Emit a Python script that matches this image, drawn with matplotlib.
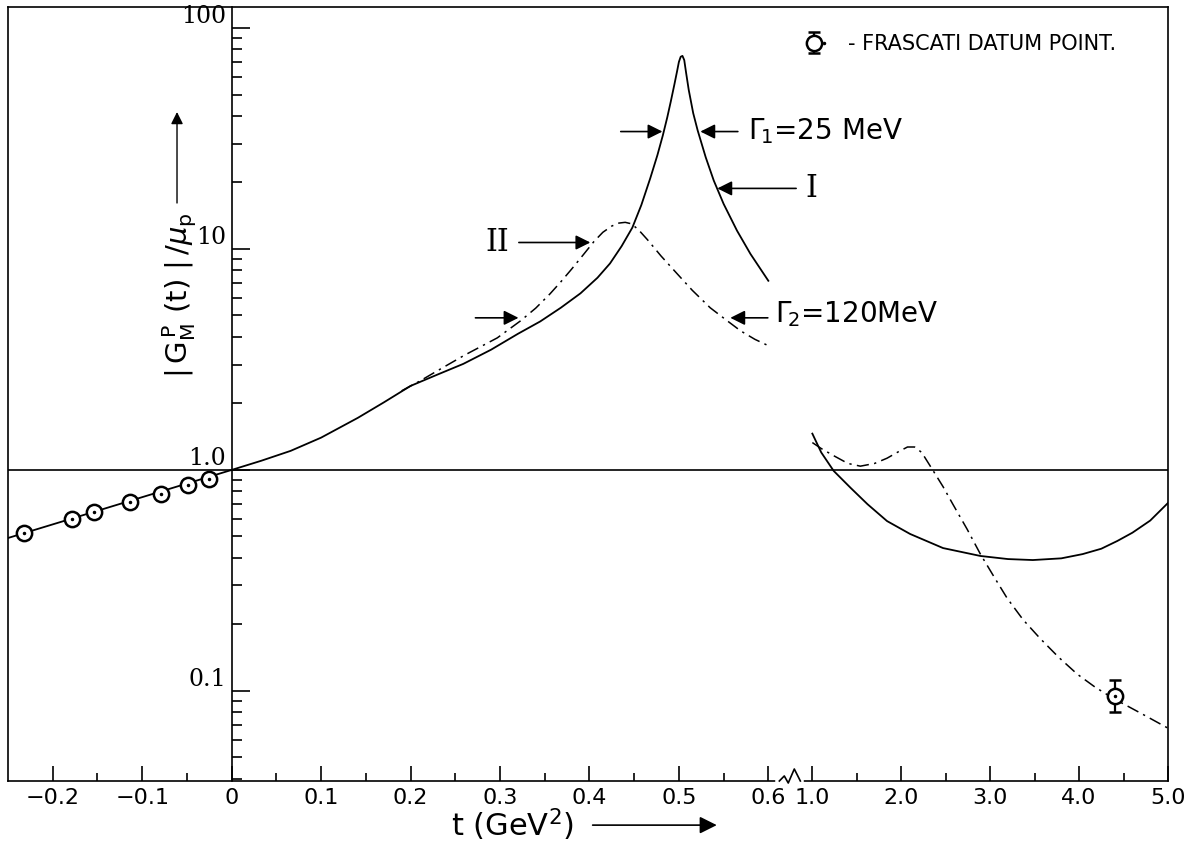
import numpy as np
import matplotlib
matplotlib.use('Agg')
import matplotlib.pyplot as plt
from matplotlib.ticker import FixedLocator, LogLocator, NullFormatter
from matplotlib.transforms import blended_transform_factory
from matplotlib.legend_handler import HandlerTuple

# spacelike data points
t_pts = [-0.232, -0.178, -0.154, -0.114, -0.079, -0.049, -0.025]
g_pts = [0.518, 0.600, 0.645, 0.716, 0.779, 0.855, 0.910]

# curve I (solid), t <= 0.6
t_I = [-0.25, 0.0, 0.033, 0.066, 0.10, 0.141, 0.17, 0.200, 0.23, 0.259, 0.29, 0.320,
       0.345, 0.368, 0.39, 0.409, 0.423, 0.436, 0.448, 0.458, 0.468, 0.476, 0.482,
       0.487, 0.491, 0.495, 0.498, 0.500, 0.502, 0.504, 0.506, 0.508, 0.511, 0.516,
       0.521, 0.530, 0.539, 0.550, 0.565, 0.580, 0.600]
g_I = [0.492, 1.0, 1.10, 1.22, 1.40, 1.72, 2.02, 2.40, 2.70, 3.02, 3.50, 4.13,
       4.70, 5.42, 6.3, 7.41, 8.6, 10.3, 12.5, 15.8, 20.9, 26.6, 32.6,
       39.4, 46.6, 55.6, 63.8, 70.2, 74.1, 74.8, 71.6, 63.0, 52.5, 41.2,
       34.4, 26.0, 20.4, 16.0, 12.1, 9.5, 7.18]

# curve II (dash-dot), t <= 0.6
t_II = [0.19, 0.21, 0.230, 0.26, 0.297, 0.323, 0.340, 0.356, 0.368, 0.38, 0.393,
        0.405, 0.415, 0.425, 0.433, 0.440, 0.447, 0.455, 0.465, 0.480, 0.498, 0.515,
        0.535, 0.552, 0.569, 0.585, 0.600]
g_II = [2.28, 2.52, 2.81, 3.30, 3.96, 4.73, 5.4, 6.27, 7.1, 8.1, 9.4,
        10.8, 11.9, 12.7, 13.1, 13.2, 13.0, 12.2, 11.0, 9.3, 7.73, 6.5,
        5.42, 4.8, 4.26, 3.9, 3.65]

# curves beyond the break, t >= 1
t_Ib = [1.0, 1.1, 1.24, 1.43, 1.62, 1.84, 2.10, 2.47, 2.89, 3.2, 3.48, 3.8, 4.04,
        4.25, 4.43, 4.6, 4.8, 5.0]
g_Ib = [1.46, 1.2, 0.99, 0.83, 0.70, 0.587, 0.513, 0.443, 0.408, 0.395, 0.391, 0.398,
        0.416, 0.44, 0.477, 0.52, 0.59, 0.709]
t_IIb = [1.0, 1.1, 1.24, 1.4, 1.54, 1.7, 1.84, 1.97, 2.07, 2.15, 2.23, 2.36, 2.47,
         2.58, 2.74, 2.89, 3.04, 3.19, 3.37, 3.56, 3.77, 3.98, 4.18, 4.38, 4.7, 5.0]
g_IIb = [1.33, 1.25, 1.16, 1.07, 1.04, 1.07, 1.13, 1.21, 1.27, 1.27, 1.20, 0.99, 0.84,
         0.70, 0.54, 0.416, 0.33, 0.263, 0.21, 0.173, 0.142, 0.119, 0.104, 0.0927, 0.079, 0.0678]

# Frascati point
t_fr = [4.40]
g_fr = [0.0946]
fr_lo = [0.0146]
fr_hi = [0.0174]

xmaj = [-0.2, -0.1, 0, 0.1, 0.2, 0.3, 0.4, 0.5, 0.6, 1.0, 2.0, 3.0, 4.0, 5.0]
xlab = ['\u22120.2', '\u22120.1', '0', '0.1', '0.2', '0.3', '0.4', '0.5', '0.6',
        '1.0', '2.0', '3.0', '4.0', '5.0']
xmin = [-0.15, -0.05, 0.05, 0.15, 0.25, 0.35, 0.45, 0.55, 1.5, 2.5, 3.5, 4.5]
ymaj = [0.1, 1.0, 10, 100]
ylab = ['0.1', '1.0', '10', '100']

# broken x axis: linear up to 0.6, compressed gap, then coarser scale from 1.0
U1 = 0.6492
SR = 0.0994
GAP = (U1 - 0.6) / 0.4


def fwd(t):
    t = np.asarray(t, float)
    return np.where(t <= 0.6, t, np.where(t >= 1.0, U1 + (t - 1.0) * SR, 0.6 + (t - 0.6) * GAP))


def inv(u):
    u = np.asarray(u, float)
    return np.where(u <= 0.6, u, np.where(u >= U1, 1.0 + (u - U1) / SR, 0.6 + (u - 0.6) / GAP))


fig = plt.figure(figsize=(11.93, 8.44), dpi=100)
ax = fig.add_axes([8 / 1193, 1 - 781 / 844, 1160 / 1193, 774 / 844])
ax.set_xscale('function', functions=(fwd, inv))
ax.set_yscale('log')
ax.set_xlim(-0.25, 5.0)
ax.set_ylim(0.0391, 124.5)

lw = 1.2
for s in ['top', 'right', 'bottom', 'left']:
    ax.spines[s].set_linewidth(lw)
ax.spines['left'].set_position(('data', 0))
ax.plot([0, 0], [0, 1], transform=ax.transAxes, color='k', lw=lw, clip_on=False)

ax.xaxis.set_major_locator(FixedLocator(xmaj))
ax.xaxis.set_minor_locator(FixedLocator(xmin))
ax.set_xticklabels(xlab, fontsize=16)
ax.xaxis.set_minor_formatter(NullFormatter())
ax.tick_params(axis='x', which='major', direction='in', length=11, width=lw, pad=5)
ax.tick_params(axis='x', which='minor', direction='in', length=6, width=lw)

ax.yaxis.set_major_locator(FixedLocator(ymaj))
ax.yaxis.set_minor_locator(LogLocator(base=10, subs=range(2, 10)))
ax.yaxis.set_minor_formatter(NullFormatter())
ax.set_yticklabels(ylab, fontsize=17, family='serif', va='bottom')
ax.tick_params(axis='y', which='major', direction='in', length=13, width=lw, pad=4)
ax.tick_params(axis='y', which='minor', direction='in', length=7, width=lw)

ax.axhline(1.0, color='k', lw=lw)

dashdot = (0, (8, 3.5, 1.5, 3.5))
ax.plot(t_I, g_I, color='k', lw=1.3)
ax.plot(t_Ib, g_Ib, color='k', lw=1.3)
ax.plot(t_II, g_II, color='k', lw=1.1, ls=dashdot)
ax.plot(t_IIb, g_IIb, color='k', lw=1.1, ls=dashdot)

ax.plot(t_pts, g_pts, 'o', mfc='white', mec='k', ms=11, mew=1.8, zorder=4)
ax.plot(t_pts, g_pts, '.', color='k', ms=3, zorder=5)

eb = ax.errorbar(t_fr, g_fr, yerr=[fr_lo, fr_hi], fmt='o', mfc='white', mec='k', ms=11, mew=1.8,
                 ecolor='k', elinewidth=1.6, capsize=4, capthick=2.2, zorder=4)
dot, = ax.plot(t_fr, g_fr, '.', color='k', ms=3, zorder=5)

ax.legend(handles=[(eb, dot)], labels=['- FRASCATI DATUM POINT.'],
          handler_map={tuple: HandlerTuple(ndivide=None)},
          loc='center left', bbox_to_anchor=(0.690, 0.952), frameon=False,
          borderpad=0, borderaxespad=0, handlelength=1.0, handletextpad=0.9,
          prop={'family': 'DejaVu Sans', 'size': 15})

# axis break mark on the bottom edge
zig_t = [0.700, 0.745, 0.781, 0.836, 0.891]
zig_y = [0.0, 0.0065, -0.0026, 0.0155, 0.0]
bt = blended_transform_factory(ax.transData, ax.transAxes)
ax.plot([0.69, 0.90], [0, 0], color='white', lw=4, transform=bt, clip_on=False, zorder=5)
ax.plot(zig_t, zig_y, color='k', lw=1.2, transform=bt, clip_on=False, zorder=6)

# annotations
arw = dict(arrowstyle='-|>', color='k', lw=1.2, mutation_scale=22, shrinkA=0, shrinkB=0)
ax.annotate('', xy=(0.4816, 34.0), xytext=(-30, 0), textcoords='offset points', arrowprops=arw)
ax.annotate('', xy=(0.524, 34.0), xytext=(27, 0), textcoords='offset points', arrowprops=arw)
ax.annotate(r'$\Gamma_{\!1}$=25 MeV', xy=(0.524, 34.0), xytext=(34, 0), textcoords='offset points',
            fontsize=20, ha='left', va='center')

ax.annotate('I', xy=(0.543, 18.8), xytext=(68, 0), textcoords='offset points',
            fontsize=22, family='serif', ha='center', va='center',
            arrowprops=dict(arw, shrinkA=5))
ax.annotate('II', xy=(0.401, 10.7), xytext=(-67, 0), textcoords='offset points',
            fontsize=22, family='serif', ha='center', va='center',
            arrowprops=dict(arw, shrinkA=5))

ax.annotate('', xy=(0.3207, 4.88), xytext=(-31, 0), textcoords='offset points', arrowprops=arw)
ax.annotate('', xy=(0.5575, 4.88), xytext=(27, 0), textcoords='offset points', arrowprops=arw)
ax.annotate(r'$\Gamma_{\!2}$=120MeV', xy=(0.5575, 4.88), xytext=(32, 3), textcoords='offset points',
            fontsize=20, ha='left', va='center')

# axis labels with arrows
ax.set_ylabel(r'$|\,\mathrm{G}^{\,\mathrm{P}}_{\mathrm{M}}\ (\mathrm{t})\ |\,/\mu_{\mathrm{p}}$',
              fontsize=21, va='center')
ax.yaxis.set_label_coords(0.148, 0.628)
ax.annotate('', xy=(0.1457, 1 - 105 / 774), xytext=(0.1457, 1 - 196 / 774), xycoords='axes fraction',
            arrowprops=dict(arw, lw=1.0, mutation_scale=18))

ax.set_xlabel(r't (GeV$^2$)', fontsize=22, va='center')
ax.xaxis.set_label_coords(0.435, -0.057)
ax.annotate('', xy=(0.611, -0.057), xytext=(0.504, -0.057), xycoords='axes fraction',
            arrowprops=dict(arw, lw=1.2, mutation_scale=26))

fig.savefig('out.png', dpi=100, facecolor='white')
